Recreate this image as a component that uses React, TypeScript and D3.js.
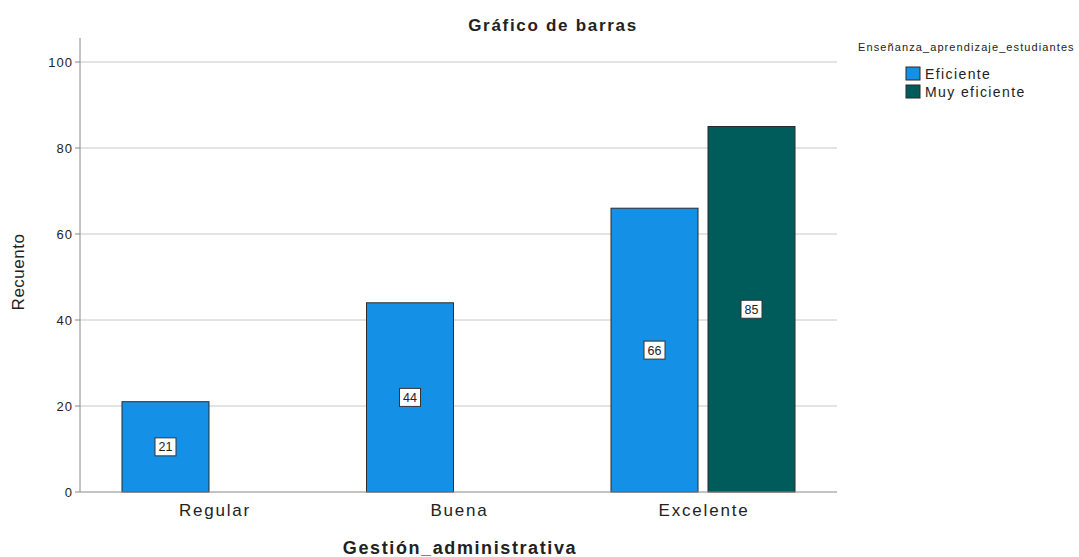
import * as d3 from "d3";

const categories = ["Regular", "Buena", "Excelente"];
const series = ["Eficiente", "Muy eficiente"];
const colors = ["#1490e6", "#005c5a"];
// valores por categoría, null = sin barra
const eficiente = [21, 44, 66];
const muyEficiente = [null, null, 85];
const yTicks = [0, 20, 40, 60, 80, 100];

const W = 1079;
const H = 557;
const left = 80;
const right = 837;
const top = 38;
const bottom = 492;

const App = () => {
  const x0 = d3
    .scaleBand<string>()
    .domain(categories)
    .range([left, right])
    .paddingInner(0)
    .paddingOuter(0.048);
  const x1 = d3
    .scaleBand<string>()
    .domain(series)
    .range([-92, 92])
    .paddingInner(0.103);
  const y = d3.scaleLinear().domain([0, 100]).range([bottom, 62]);

  const values = [eficiente, muyEficiente];
  const font = "Arial, 'Liberation Sans', sans-serif";

  return (
    <svg width={W} height={H} style={{ position: "absolute", left: 0, top: 0, background: "#fff" }}>
      <text x={553} y={31} textAnchor="middle" fontFamily={font} fontWeight="bold" fontSize={17} letterSpacing={1.7} fill="#222">
        Gráfico de barras
      </text>

      {yTicks.map((t) => (
        <g key={t}>
          {t > 0 && <line x1={left} x2={right} y1={y(t)} y2={y(t)} stroke="#c8c8c8" strokeWidth={1} />}
          <line x1={left - 5} x2={left} y1={y(t)} y2={y(t)} stroke="#888" />
          <text x={73} y={y(t) + 4.5} textAnchor="end" fontFamily={font} fontSize={13} letterSpacing={1} fill="#222">
            {t}
          </text>
        </g>
      ))}

      {categories.map((c, i) =>
        series.map((s, j) => {
          const v = values[j][i];
          if (v == null) return null;
          const bx = x0(c)! + x0.bandwidth() / 2 + x1(s)!;
          const bw = x1.bandwidth();
          const cy = y(v / 2);
          const label = String(v);
          const lw = label.length * 7.5 + 6;
          return (
            <g key={c + s}>
              <rect x={bx} y={y(v)} width={bw} height={y(0) - y(v)} fill={colors[j]} stroke="#2b2b2b" strokeWidth={1} />
              <rect x={bx + bw / 2 - lw / 2} y={cy - 9} width={lw} height={18} fill="#fff" stroke="#333" strokeWidth={1} />
              <text x={bx + bw / 2} y={cy + 4.5} textAnchor="middle" fontFamily={font} fontSize={12.5} fill="#222">
                {label}
              </text>
            </g>
          );
        })
      )}

      <line x1={left} x2={left} y1={top} y2={bottom} stroke="#888" strokeWidth={1} />
      <line x1={left} x2={right} y1={bottom} y2={bottom} stroke="#888" strokeWidth={1} />

      {categories.map((c) => (
        <text key={c} x={x0(c)! + x0.bandwidth() / 2 + 1} y={516} textAnchor="middle" fontFamily={font} fontSize={17} letterSpacing={1.8} fill="#222">
          {c}
        </text>
      ))}

      <text x={460} y={554} textAnchor="middle" fontFamily={font} fontWeight="bold" fontSize={18} letterSpacing={1.6} fill="#222">
        Gestión_administrativa
      </text>
      <text
        transform="translate(24,272) rotate(-90)"
        textAnchor="middle"
        fontFamily={font}
        fontSize={17}
        letterSpacing={0.5}
        fill="#222"
      >
        Recuento
      </text>

      <text x={858} y={51} fontFamily={font} fontSize={11} letterSpacing={1.1} fill="#222">
        Enseñanza_aprendizaje_estudiantes
      </text>
      {series.map((s, j) => (
        <g key={s}>
          <rect x={906} y={67 + j * 18} width={14} height={13} fill={colors[j]} stroke="#2b2b2b" strokeWidth={1} />
          <text x={925} y={79 + j * 18} fontFamily={font} fontSize={14} letterSpacing={1.4} fill="#222">
            {s}
          </text>
        </g>
      ))}
    </svg>
  );
};

export default App;
